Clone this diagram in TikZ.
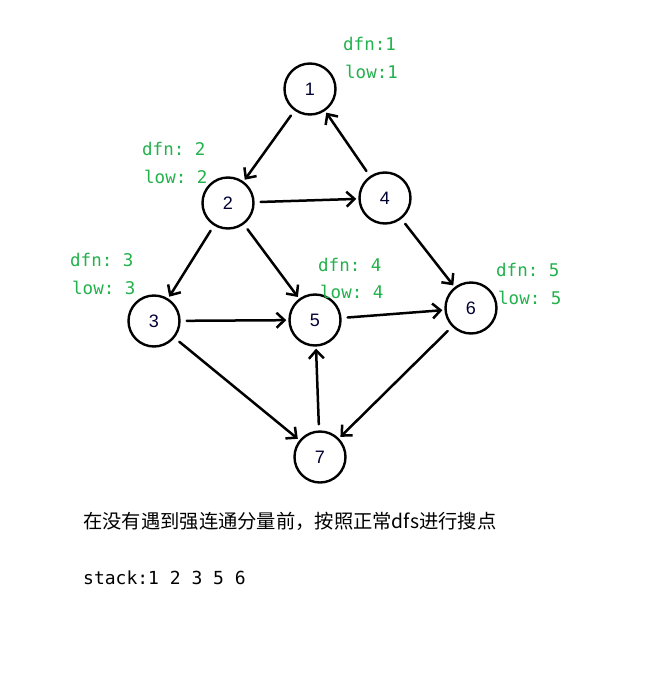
\documentclass[tikz,border=0pt]{standalone}
\usepackage{fontspec}
\setmainfont{Liberation Sans}
\setmonofont{DejaVu Sans Mono}
\newfontfamily\cjk{Noto Sans CJK SC}
\usetikzlibrary{arrows.meta}
\definecolor{paintgreen}{RGB}{34,177,76}
\begin{document}
\begin{tikzpicture}[x=1pt,y=-1pt,line join=round,line cap=round,>={Straight Barb[length=8pt,width=15pt,line width=2.5pt]},
	vertex/.style={circle,draw,line width=2.4pt,minimum size=51pt,inner sep=0pt,font=\fontsize{18}{18}\selectfont,text=black!80!blue},
	info/.style={anchor=west,inner sep=0pt,text=paintgreen,font=\ttfamily\fontsize{17.5}{18}\selectfont},
	edge/.style={->,line width=2.5pt,shorten <=6pt,shorten >=2pt}]
	\useasboundingbox (0,0) rectangle (655,675);
	% vertices
	\node[vertex] (v1) at (310,89) {1};
	\node[vertex] (v2) at (228,203) {2};
	\node[vertex] (v4) at (385,198) {4};
	\node[vertex] (v3) at (154,321) {3};
	\node[vertex] (v5) at (315,320) {5};
	\node[vertex] (v6) at (471,308) {6};
	\node[vertex] (v7) at (320,457) {7};
	% dfn / low
	\node[info] (d1) at (343,44) {dfn:1};
	\node[info] (l1) at (345,72) {low:1};
	\node[info] (d2) at (142,149) {dfn: 2};
	\node[info] (l2) at (144,177) {low: 2};
	\node[info] (d3) at (70,260) {dfn: 3};
	\node[info] (l3) at (72,288) {low: 3};
	\node[info] (d4) at (318,265) {dfn: 4};
	\node[info] (l4) at (320,292) {low: 4};
	\node[info] (d5) at (496,270) {dfn: 5};
	\node[info] (l5) at (498,298) {low: 5};
	% edges
	\foreach \a/\b in {v1/v2,v4/v1,v2/v4,v2/v3,v2/v5,v4/v6,v3/v5,v5/v6,v3/v7,v6/v7,v7/v5}
		\draw[edge] (\a)--(\b);
	% text
	\node[anchor=west,inner sep=0pt,font=\cjk\fontsize{19.3}{20}\selectfont] (note) at (83,521) {在没有遇到强连通分量前，按照正常dfs进行搜点};
	\node[anchor=west,inner sep=0pt,font=\ttfamily\fontsize{18}{19}\selectfont] (stack) at (83,578) {stack:1 2 3 5 6};
\end{tikzpicture}
\end{document}
